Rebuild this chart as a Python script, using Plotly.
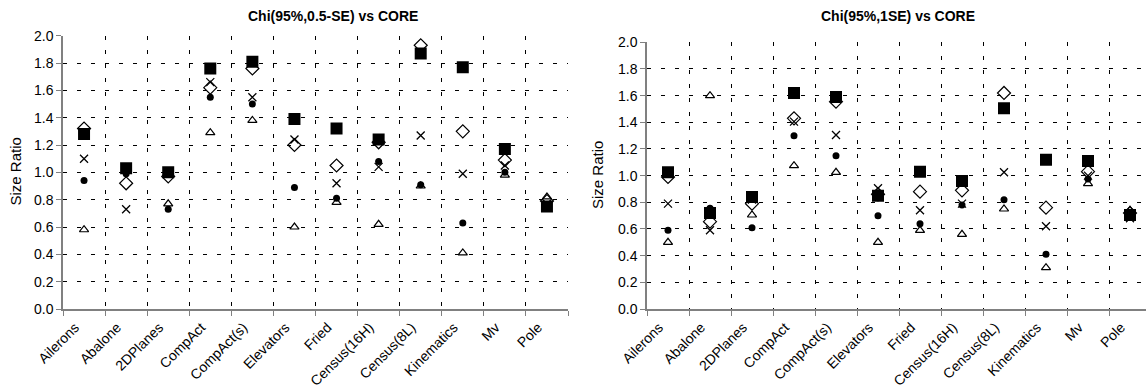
import plotly.graph_objects as go

categories = ["Ailerons", "Abalone", "2DPlanes", "CompAct", "CompAct(s)", "Elevators",
              "Fried", "Census(16H)", "Census(8L)", "Kinematics", "Mv", "Pole"]

series_names = ["Series 1", "Series 2", "Series 3", "Series 4", "Series 5"]

# Left chart: Chi(95%,0.5-SE) vs CORE
left_circle = [0.94, 0.99, 0.73, 1.55, 1.50, 0.89, 0.81, 1.08, 0.91, 0.63, 1.00, 0.76]
left_diamond = [1.32, 0.92, 0.97, 1.62, 1.76, 1.20, 1.05, 1.22, 1.93, 1.30, 1.09, 0.79]
left_x = [1.10, 0.73, 0.99, 1.66, 1.55, 1.24, 0.92, 1.04, 1.27, 0.99, 1.05, 0.77]
left_triangle = [0.58, 1.01, 0.77, 1.29, 1.38, 0.60, 0.78, 0.62, 0.90, 0.41, 0.98, 0.82]
left_square = [1.28, 1.03, 1.00, 1.76, 1.81, 1.39, 1.32, 1.24, 1.87, 1.77, 1.17, 0.75]

# Right chart: Chi(95%,1SE) vs CORE
right_circle = [0.59, 0.755, 0.61, 1.30, 1.15, 0.70, 0.64, 0.78, 0.82, 0.41, 0.975, 0.70]
right_diamond = [0.99, 0.655, 0.79, 1.43, 1.555, 0.86, 0.88, 0.89, 1.62, 0.76, 1.03, 0.72]
right_x = [0.79, 0.59, 0.82, 1.405, 1.305, 0.905, 0.74, 0.79, 1.025, 0.62, 1.00, 0.68]
right_triangle = [0.50, 1.60, 0.705, 1.075, 1.025, 0.50, 0.59, 0.56, 0.75, 0.31, 0.94, 0.74]
right_square = [1.025, 0.72, 0.84, 1.62, 1.59, 0.85, 1.03, 0.96, 1.505, 1.12, 1.11, 0.705]

y_ticks = [0.0, 0.2, 0.4, 0.6, 0.8, 1.0, 1.2, 1.4, 1.6, 1.8, 2.0]

FONT = "Liberation Sans, Arial, sans-serif"

styles = [
    dict(symbol="circle", size=7, color="black", line=dict(width=0, color="black")),
    dict(symbol="diamond-open", size=10, color="black", line=dict(width=1.2, color="black")),
    dict(symbol="triangle-up-open", size=8, color="black", line=dict(width=1.2, color="black")),
    dict(symbol="square", size=12, color="black", line=dict(width=0, color="black")),
    dict(symbol="x-thin-open", size=8, color="black", line=dict(width=1.3, color="black")),
]

fig = go.Figure()

left_data = [left_circle, left_diamond, left_triangle, left_square, left_x]
right_data = [right_circle, right_diamond, right_triangle, right_square, right_x]
names = [series_names[0], series_names[1], series_names[3], series_names[4], series_names[2]]

for vals, st, nm in zip(left_data, styles, names):
    fig.add_trace(go.Scatter(x=categories, y=vals, mode="markers", marker=st, name=nm,
                             xaxis="x", yaxis="y", showlegend=False))
for vals, st, nm in zip(right_data, styles, names):
    fig.add_trace(go.Scatter(x=categories, y=vals, mode="markers", marker=st, name=nm,
                             xaxis="x2", yaxis="y2", showlegend=False))

W, H = 1146, 392

def xaxis(domain, rng, anchor):
    return dict(domain=domain, anchor=anchor, type="category", range=rng, automargin=False,
                tickson="boundaries", ticks="outside", ticklen=5, tickcolor="#808080",
                showline=True, linecolor="#808080", linewidth=1.5,
                showgrid=True, gridcolor="black", gridwidth=1, griddash="4px,10px",
                tickangle=-45, ticklabelshift=-9, ticklabelstandoff=3,
                tickfont=dict(family=FONT, size=14, color="black"),
                zeroline=False, fixedrange=True)

def yaxis(domain, anchor):
    return dict(domain=domain, anchor=anchor, range=[0, 2.0], tickvals=y_ticks, automargin=False,
                tickformat=".1f", ticks="outside", ticklen=5, tickcolor="#808080",
                showline=True, linecolor="#808080", linewidth=1.5,
                showgrid=True, gridcolor="black", gridwidth=1, griddash="4px,10px",
                tickfont=dict(family=FONT, size=14, color="black"),
                zeroline=False, fixedrange=True)

left_x0, left_x1 = 63 / W, 568 / W
right_x0 = 647 / W
y_bot = 1 - 309 / H
left_top = 1 - 35.7 / H
right_top = 1 - 42.3 / H
right_end = -0.5 + (W - 647) / 42.0

fig.update_layout(
    template="none",
    width=W, height=H,
    margin=dict(l=0, r=0, t=0, b=0, autoexpand=False),
    paper_bgcolor="white", plot_bgcolor="white",
    xaxis=xaxis([left_x0, left_x1], [-0.5, 11.5], "y"),
    yaxis=yaxis([y_bot, left_top], "x"),
    xaxis2=xaxis([right_x0, 1.0], [-0.5, right_end], "y2"),
    yaxis2=yaxis([y_bot, right_top], "x2"),
    font=dict(family=FONT, color="black"),
    annotations=[
        dict(text="<b>Chi(95%,0.5-SE) vs CORE</b>", x=333 / W, y=1 - 16 / H,
             xref="paper", yref="paper", showarrow=False, xanchor="center", yanchor="middle",
             font=dict(family=FONT, size=14, color="black")),
        dict(text="<b>Chi(95%,1SE) vs CORE</b>", x=898 / W, y=1 - 16 / H,
             xref="paper", yref="paper", showarrow=False, xanchor="center", yanchor="middle",
             font=dict(family=FONT, size=14, color="black")),
        dict(text="Size Ratio", x=15.5 / W, y=1 - 172 / H, textangle=-90,
             xref="paper", yref="paper", showarrow=False, xanchor="center", yanchor="middle",
             font=dict(family=FONT, size=15, color="black")),
        dict(text="Size Ratio", x=597 / W, y=1 - 175 / H, textangle=-90,
             xref="paper", yref="paper", showarrow=False, xanchor="center", yanchor="middle",
             font=dict(family=FONT, size=15, color="black")),
    ],
)

fig.write_html("out.html")
